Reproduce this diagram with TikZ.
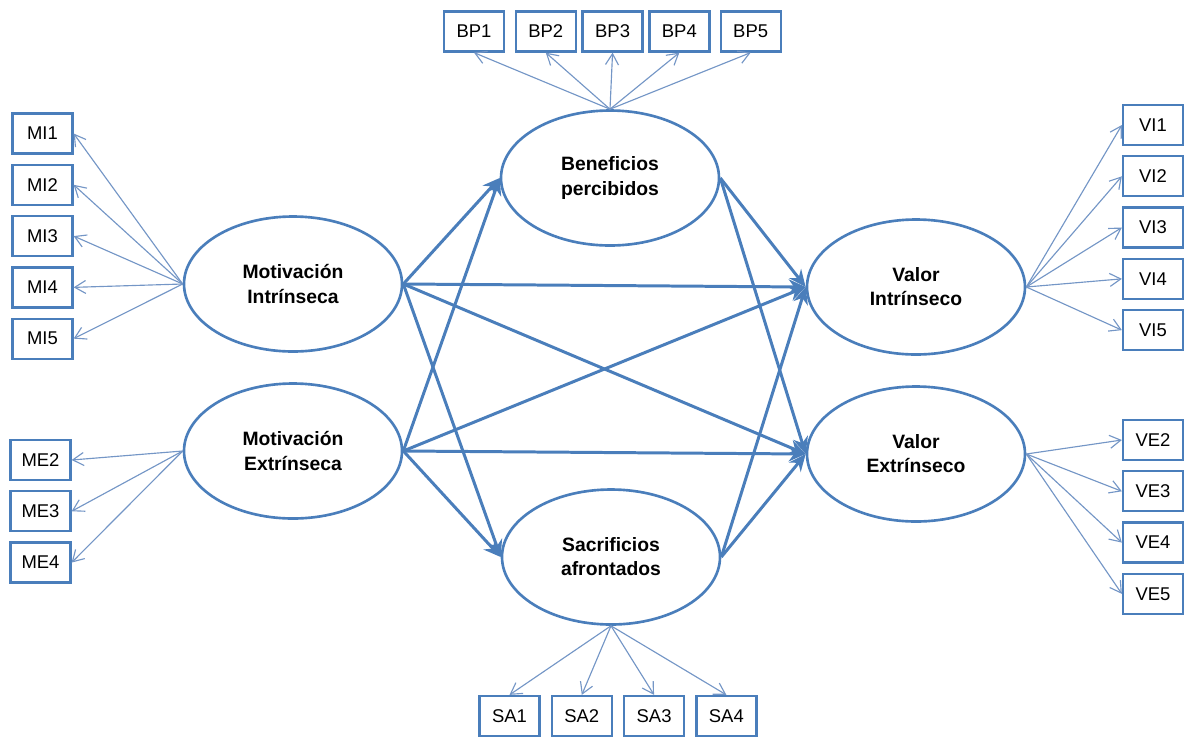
\documentclass[tikz,border=0pt]{standalone}
\usepackage{fontspec}
\setmainfont{Liberation Sans}
\usetikzlibrary{arrows.meta,shapes.geometric,positioning}
\usepackage{xcolor}
\definecolor{semblue}{HTML}{4A7EBB}
\definecolor{itemblue}{HTML}{7496C6}

\begin{document}
\begin{tikzpicture}[
	latent/.style={draw=semblue,ellipse,line width=1.5pt,fill=white,minimum width=4.36cm,minimum height=2.7cm,align=center,font=\fontsize{11}{13.7}\selectfont\bfseries},
	item/.style={draw=semblue,rectangle,line width=1.3pt,fill=white,minimum width=1.2cm,minimum height=0.8cm,inner sep=0pt,font=\fontsize{10.5}{12}\selectfont},
	effect/.style={draw=semblue,line width=1.7pt,-{Stealth[length=3.4mm,width=3mm]}},
	loading/.style={draw=itemblue,line width=0.65pt,-{Straight Barb[length=2.2mm,width=2.6mm]}}
	]
	
	\useasboundingbox (0,0) rectangle (23.72,-14.74);
	
	% Constructs
	\node[latent] (mi) at (5.86,-5.68) {Motivación\\Intrínseca};
	\node[latent] (me) at (5.86,-9.02) {Motivación\\Extrínseca};
	\node[latent] (bp) at (12.2,-3.56) {Beneficios\\percibidos};
	\node[latent] (sa) at (12.22,-11.14) {Sacrificios\\afrontados};
	\node[latent] (vi) at (18.32,-5.74) {Valor\\Intrínseco};
	\node[latent] (ve) at (18.32,-9.08) {Valor\\Extrínseco};
	
	% Motivacion intrinseca items
	\node[item] (mi1) at (0.85,-2.67) {MI1};
	\node[item,below=0.18cm of mi1] (mi2) {MI2};
	\node[item,below=0.18cm of mi2] (mi3) {MI3};
	\node[item,below=0.18cm of mi3] (mi4) {MI4};
	\node[item,below=0.18cm of mi4] (mi5) {MI5};
	
	% Motivacion extrinseca items
	\node[item] (me2) at (0.81,-9.2) {ME2};
	\node[item,below=0.18cm of me2] (me3) {ME3};
	\node[item,below=0.18cm of me3] (me4) {ME4};
	
	% Beneficios items
	\node[item] (bp1) at (9.48,-0.63) {BP1};
	\node[item,right=0.19cm of bp1] (bp2) {BP2};
	\node[item,right=0.09cm of bp2] (bp3) {BP3};
	\node[item,right=0.09cm of bp3] (bp4) {BP4};
	\node[item,right=0.18cm of bp4] (bp5) {BP5};
	
	% Sacrificios items
	\node[item] (sa1) at (10.19,-14.32) {SA1};
	\node[item,right=0.2cm of sa1] (sa2) {SA2};
	\node[item,right=0.2cm of sa2] (sa3) {SA3};
	\node[item,right=0.2cm of sa3] (sa4) {SA4};
	
	% Valor intrinseco items
	\node[item] (vi1) at (23.06,-2.5) {VI1};
	\node[item,below=0.18cm of vi1] (vi2) {VI2};
	\node[item,below=0.18cm of vi2] (vi3) {VI3};
	\node[item,below=0.18cm of vi3] (vi4) {VI4};
	\node[item,below=0.18cm of vi4] (vi5) {VI5};
	
	% Valor extrinseco items
	\node[item] (ve2) at (23.06,-8.8) {VE2};
	\node[item,below=0.18cm of ve2] (ve3) {VE3};
	\node[item,below=0.18cm of ve3] (ve4) {VE4};
	\node[item,below=0.18cm of ve4] (ve5) {VE5};
	
	% Loadings
	\draw[loading] (mi.west) -- (mi1.east);
	\draw[loading] (mi.west) -- (mi2.east);
	\draw[loading] (mi.west) -- (mi3.east);
	\draw[loading] (mi.west) -- (mi4.east);
	\draw[loading] (mi.west) -- (mi5.east);
	\draw[loading] (me.west) -- (me2.east);
	\draw[loading] (me.west) -- (me3.east);
	\draw[loading] (me.west) -- (me4.east);
	\draw[loading] (bp.north) -- (bp1.south);
	\draw[loading] (bp.north) -- (bp2.south);
	\draw[loading] (bp.north) -- (bp3.south);
	\draw[loading] (bp.north) -- (bp4.south);
	\draw[loading] (bp.north) -- (bp5.south);
	\draw[loading] (sa.south) -- (sa1.north);
	\draw[loading] (sa.south) -- (sa2.north);
	\draw[loading] (sa.south) -- (sa3.north);
	\draw[loading] (sa.south) -- (sa4.north);
	\draw[loading] (vi.east) -- (vi1.west);
	\draw[loading] (vi.east) -- (vi2.west);
	\draw[loading] (vi.east) -- (vi3.west);
	\draw[loading] (vi.east) -- (vi4.west);
	\draw[loading] (vi.east) -- (vi5.west);
	\draw[loading] (ve.east) -- (ve2.west);
	\draw[loading] (ve.east) -- (ve3.west);
	\draw[loading] (ve.east) -- (ve4.west);
	\draw[loading] (ve.east) -- (ve5.west);
	
	% Structural paths
	\draw[effect] (mi.east) -- (bp.west);
	\draw[effect] (mi.east) -- (sa.west);
	\draw[effect] (mi.east) -- (vi.west);
	\draw[effect] (mi.east) -- (ve.west);
	\draw[effect] (me.east) -- (bp.west);
	\draw[effect] (me.east) -- (sa.west);
	\draw[effect] (me.east) -- (vi.west);
	\draw[effect] (me.east) -- (ve.west);
	\draw[effect] (bp.east) -- (vi.west);
	\draw[effect] (bp.east) -- (ve.west);
	\draw[effect] (sa.east) -- (vi.west);
	\draw[effect] (sa.east) -- (ve.west);
	
\end{tikzpicture}
\end{document}
